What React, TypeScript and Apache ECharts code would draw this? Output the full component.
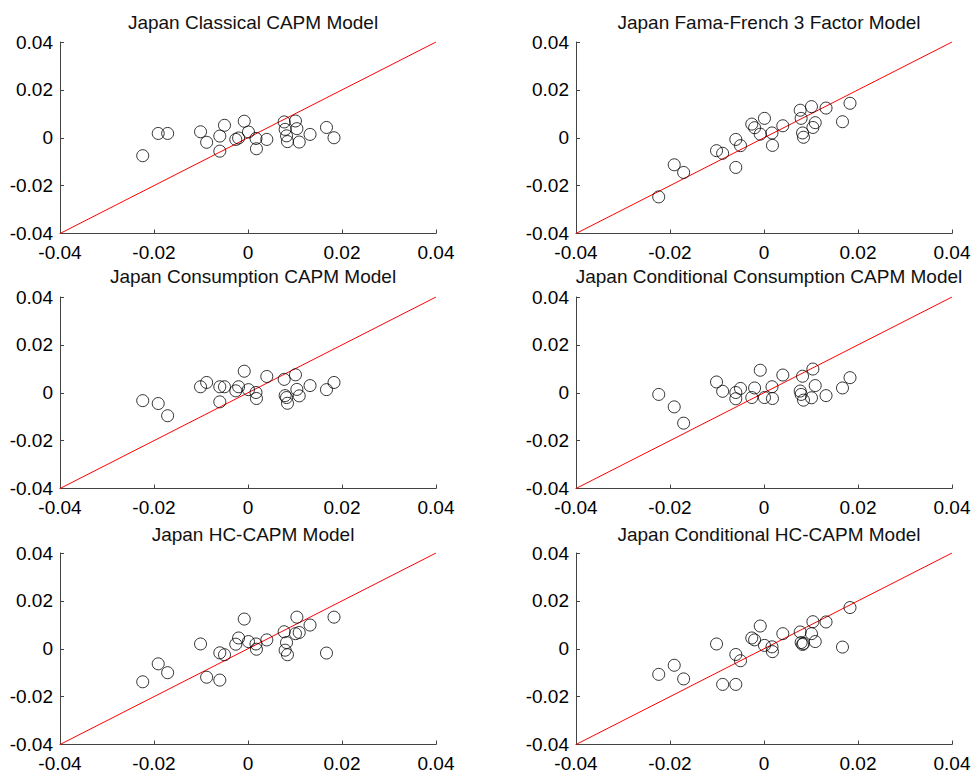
import React, { useEffect, useRef } from "react";
import * as echarts from "echarts";

// Shared x values (25 test portfolios)
const X = [-0.0224, -0.0191, -0.0171, -0.0101, -0.0088, -0.006, -0.006, -0.005, -0.0026, -0.002, -0.0008, 0.0001, 0.0017, 0.0018, 0.004, 0.0077, 0.0079, 0.0082, 0.0084, 0.0101, 0.0104, 0.0109, 0.0132, 0.0167, 0.0183];

const Y_CLASSICAL = [-0.0075, 0.0018, 0.0018, 0.0025, -0.0019, 0.0007, -0.0056, 0.0052, -0.0007, -0.0001, 0.0069, 0.0024, -0.0003, -0.0046, -0.0007, 0.0066, 0.0035, 0.0008, -0.0016, 0.007, 0.0038, -0.0018, 0.0014, 0.0043, 0.0];
const Y_FF3 = [-0.0247, -0.0113, -0.0145, -0.0054, -0.0065, -0.0007, -0.0124, -0.0033, 0.0057, 0.0042, 0.0015, 0.0081, 0.002, -0.0032, 0.005, 0.0115, 0.0081, 0.002, 0.0002, 0.013, 0.0043, 0.0063, 0.0124, 0.0067, 0.0144];
const Y_CCAPM = [-0.0033, -0.0045, -0.0096, 0.0025, 0.0043, 0.0025, -0.0038, 0.0025, 0.0008, 0.0025, 0.009, 0.0013, 0.0001, -0.0024, 0.0068, 0.0056, -0.0012, -0.002, -0.0044, 0.0075, 0.0014, -0.0013, 0.003, 0.0013, 0.0043];
const Y_COND_CCAPM = [-0.0007, -0.0059, -0.0127, 0.0045, 0.0006, 0.0001, -0.0025, 0.0018, -0.002, 0.002, 0.0094, -0.002, 0.0025, -0.0024, 0.0074, 0.0007, -0.0007, 0.0069, -0.0031, -0.0021, 0.0099, 0.003, -0.0012, 0.002, 0.0063];
const Y_HCCAPM = [-0.0138, -0.0063, -0.01, 0.002, -0.0119, -0.0017, -0.0131, -0.0025, 0.0019, 0.0045, 0.0124, 0.003, 0.002, -0.0002, 0.0037, 0.0071, -0.0006, 0.0026, -0.0025, 0.0063, 0.0132, 0.0068, 0.0099, -0.0018, 0.0132];
const Y_COND_HCCAPM = [-0.0107, -0.0069, -0.0126, 0.002, -0.0149, -0.0024, -0.0149, -0.005, 0.0045, 0.0037, 0.0095, 0.0014, 0.0008, -0.0012, 0.0063, 0.007, 0.0026, 0.0018, 0.0022, 0.0063, 0.0113, 0.003, 0.0112, 0.0007, 0.0172];

const TITLES = [
  "Japan Classical CAPM Model",
  "Japan Fama-French 3 Factor Model",
  "Japan Consumption CAPM Model",
  "Japan Conditional Consumption CAPM Model",
  "Japan HC-CAPM Model",
  "Japan Conditional HC-CAPM Model",
];
const PANEL_Y = [Y_CLASSICAL, Y_FF3, Y_CCAPM, Y_COND_CCAPM, Y_HCCAPM, Y_COND_HCCAPM];
const AXIS_MIN = -0.04;
const AXIS_MAX = 0.04;
const AXIS_STEP = 0.02;
const DIAGONAL = [[AXIS_MIN, AXIS_MIN], [AXIS_MAX, AXIS_MAX]];

const FONT = "'Liberation Sans', Arial, sans-serif";

export default function App() {
  const ref = useRef<HTMLDivElement>(null);
  useEffect(() => {
    if (!ref.current) return;
    const chart = echarts.init(ref.current, null, { renderer: "svg" });
    const lefts = [60, 576];
    const tops = [42, 297, 553];
    const titleTops = [8, 262, 520];
    const W = 376;
    const H = 191.5;
    const fmt = (v: number) => (Math.abs(v) < 1e-9 ? "0" : v.toFixed(2));
    const grids: any[] = [];
    const xAxes: any[] = [];
    const yAxes: any[] = [];
    const series: any[] = [];
    const titles: any[] = [];
    PANEL_Y.forEach((ys, i) => {
      const col = i % 2;
      const row = Math.floor(i / 2);
      grids.push({ left: lefts[col], top: tops[row], width: W, height: H, containLabel: false });
      const axisCommon = {
        type: "value",
        min: AXIS_MIN,
        max: AXIS_MAX,
        interval: AXIS_STEP,
        gridIndex: i,
        splitLine: { show: false },
        axisLine: { show: true, onZero: false, lineStyle: { color: "#444", width: 1 } },
        axisTick: { show: true, inside: true, length: 4, lineStyle: { color: "#444" } },
        axisLabel: { color: "#000", fontSize: 19, fontFamily: FONT, formatter: fmt },
      };
      xAxes.push({ ...axisCommon, axisLabel: { ...axisCommon.axisLabel, margin: 9 } });
      yAxes.push({ ...axisCommon, axisLabel: { ...axisCommon.axisLabel, margin: 7 } });
      titles.push({
        text: TITLES[i],
        left: lefts[col] + W / 2,
        top: titleTops[row],
        textAlign: "center",
        textStyle: { fontSize: 19, fontWeight: "normal", color: "#111", fontFamily: FONT },
      });
      series.push({
        type: "line",
        xAxisIndex: i,
        yAxisIndex: i,
        data: DIAGONAL,
        symbol: "none",
        lineStyle: { color: "#ff0000", width: 1 },
        z: 2,
      });
      series.push({
        type: "scatter",
        xAxisIndex: i,
        yAxisIndex: i,
        data: X.map((x, k) => [x, ys[k]]),
        symbol: "circle",
        symbolSize: 12,
        itemStyle: { color: "transparent", borderColor: "#000", borderWidth: 1 },
        z: 3,
      });
    });
    chart.setOption({
      animation: false,
      backgroundColor: "#fff",
      title: titles,
      grid: grids,
      xAxis: xAxes,
      yAxis: yAxes,
      series,
    });
    return () => chart.dispose();
  }, []);
  return (
    <div
      ref={ref}
      style={{ position: "fixed", left: 0, top: 0, width: 977, height: 778, background: "#fff" }}
    />
  );
}
